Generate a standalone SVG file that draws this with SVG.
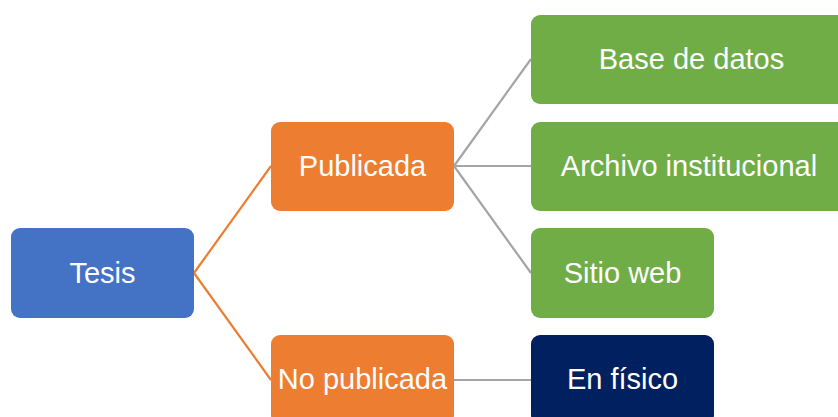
<svg xmlns="http://www.w3.org/2000/svg" width="838" height="417" viewBox="0 0 838 417">
<style>
.box{stroke:none}
.t{font-family:"Liberation Sans",Arial,sans-serif;font-size:29px;fill:#ffffff;text-anchor:middle}
.c{fill:none;stroke-width:2.2}
</style>
<rect width="838" height="417" fill="#ffffff"/>
<g id="connectors">
<path class="c" stroke="#ED7D31" d="M194,273 L271,166 M194,273 L271,380"/>
<path class="c" stroke="#A5A5A5" d="M454,166 L531,59 M454,166 L531,166 M454,166 L531,273 M454,380 L531,380"/>
</g>
<g id="tesis"><rect class="box" x="11" y="228" width="183" height="90" rx="9" fill="#4472C4"/><text class="t" x="102.5" y="283">Tesis</text></g>
<g id="publicada"><rect class="box" x="271" y="122" width="183" height="89" rx="9" fill="#ED7D31"/><text class="t" x="362.5" y="176">Publicada</text></g>
<g id="nopublicada"><rect class="box" x="271" y="335" width="183" height="89" rx="9" fill="#ED7D31"/><text class="t" x="362.5" y="389">No publicada</text></g>
<g id="basedatos"><rect class="box" x="531" y="15" width="321" height="89" rx="9" fill="#70AD47"/><text class="t" x="691.5" y="69">Base de datos</text></g>
<g id="archivo"><rect class="box" x="531" y="122" width="321" height="89" rx="9" fill="#70AD47"/><text class="t" x="689" y="176">Archivo institucional</text></g>
<g id="sitioweb"><rect class="box" x="531" y="228" width="183" height="90" rx="9" fill="#70AD47"/><text class="t" x="622.5" y="283">Sitio web</text></g>
<g id="enfisico"><rect class="box" x="531" y="335" width="183" height="89" rx="9" fill="#002060"/><text class="t" x="622.5" y="389">En físico</text></g>
</svg>
